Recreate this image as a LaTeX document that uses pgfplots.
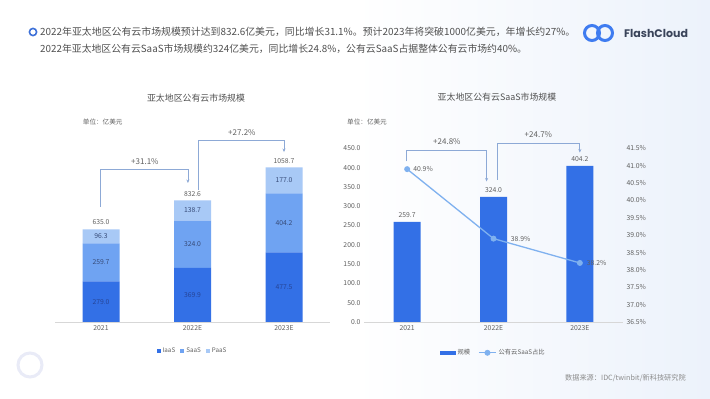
\documentclass[border=0pt]{standalone}
\usepackage{pgfplots}
\pgfplotsset{compat=1.18}
\usepackage{fontspec}
\setmainfont{Noto Sans CJK SC}
\newfontfamily\logofont{Poppins}
\usetikzlibrary{arrows.meta}
\definecolor{barblue}{RGB}{51,112,230}
\definecolor{saasblue}{RGB}{111,163,242}
\definecolor{paasblue}{RGB}{168,201,246}
\definecolor{lineblue}{RGB}{127,177,239}
\definecolor{brk}{RGB}{141,169,214}
\definecolor{txt}{RGB}{80,80,80}
\definecolor{lbl}{RGB}{95,95,95}
\definecolor{iaastxt}{RGB}{38,68,150}
\definecolor{segtxt}{RGB}{55,75,120}
\definecolor{bg}{RGB}{236,242,251}
\newcommand{\fs}[1]{\fontsize{#1}{#1}\selectfont}
\begin{document}
\begin{tikzpicture}[x=1pt,y=1pt]
% background
\shade[left color=white, right color=bg, middle color=white] (0,0) rectangle (710,399);
\draw[color={rgb,255:red,233;green,235;blue,247}, line width=3pt] (30,34) circle (12);
% header
\draw[color={rgb,255:red,59;green,111;blue,216}, line width=1.6pt] (33,367) circle (3.6);
\node[anchor=west, inner sep=0, text=txt] at (40,367) {\fs{9.9}2022年亚太地区公有云市场规模预计达到832.6亿美元，同比增长31.1\%。预计2023年将突破1000亿美元，年增长约27\%。};
\node[anchor=west, inner sep=0, text=txt] at (40,350) {\fs{9.85}2022年亚太地区公有云SaaS市场规模约324亿美元，同比增长24.8\%，公有云SaaS占据整体公有云市场约40\%。};
% logo
\draw[color={rgb,255:red,63;green,124;blue,240}, line width=3pt] (592,366) circle (7.5);
\draw[color={rgb,255:red,63;green,124;blue,240}, line width=3pt] (605,366) circle (7.5);
\node[anchor=west, inner sep=0, text={rgb,255:red,58;green,68;blue,90}] at (624,366) {\logofont\fs{11}\bfseries FlashCloud};
% titles
\node[text=txt] at (196,301) {\fs{8.9}亚太地区公有云市场规模};
\node[anchor=west, inner sep=0, text=lbl] at (82.7,277) {\fs{6.6}单位：亿美元};
\node[text=txt] at (497,302.3) {\fs{8.9}亚太地区公有云SaaS市场规模};
\node[anchor=west, inner sep=0, text=lbl] at (347,277) {\fs{6.6}单位：亿美元};
\node[anchor=east, inner sep=0, text={rgb,255:red,140;green,140;blue,140}] at (686,21) {\fs{7.2}数据来源：IDC/twinbit/新科技研究院};

% ---------- left chart ----------
\begin{axis}[
  at={(55.25pt,77pt)}, anchor=south west,
  scale only axis, width=274.5pt, height=175.2pt,
  xmin=-0.5, xmax=2.5, ymin=0, ymax=1200,
  ybar stacked, bar width=37pt,
  clip=false,
  axis y line=none,
  axis x line*=bottom,
  x axis line style={draw={rgb,255:red,215;green,215;blue,215}, -},
  xtick={0,1,2}, xticklabels={2021,2022E,2023E},
  major tick length=0pt,
  xticklabel style={font=\fs{6.8}, text=lbl},
  legend style={at={(0.5,-0.135)}, anchor=north, draw=none, fill=none,
    legend columns=3, font=\fs{6.3}, text=lbl,
    /tikz/every even column/.append style={column sep=3pt},
    inner sep=0pt},
  legend image code/.code={\fill[#1, draw=none] (0pt,-2pt) rectangle (4pt,2pt);},
]
\addplot[fill=barblue, draw=none] coordinates {(0,279.0) (1,369.9) (2,477.5)};
\addplot[fill=saasblue, draw=none] coordinates {(0,259.7) (1,324.0) (2,404.2)};
\addplot[fill=paasblue, draw=none] coordinates {(0,96.3) (1,138.7) (2,177.0)};
\legend{IaaS,SaaS,PaaS}
\end{axis}
\begin{axis}[
  at={(55.25pt,77pt)}, anchor=south west,
  scale only axis, width=274.5pt, height=175.2pt,
  xmin=-0.5, xmax=2.5, ymin=0, ymax=1200,
  clip=false, hide axis,
]
% segment labels
\node[text=iaastxt, font=\fs{6.8}] at (axis cs:0,139.5) {279.0};
\node[text=iaastxt, font=\fs{6.8}] at (axis cs:1,184.95) {369.9};
\node[text=iaastxt, font=\fs{6.8}] at (axis cs:2,238.75) {477.5};
\node[text=segtxt, font=\fs{6.8}] at (axis cs:0,408.85) {259.7};
\node[text=segtxt, font=\fs{6.8}] at (axis cs:1,531.9) {324.0};
\node[text=segtxt, font=\fs{6.8}] at (axis cs:2,679.6) {404.2};
\node[text=segtxt, font=\fs{6.8}] at (axis cs:0,586.85) {96.3};
\node[text=segtxt, font=\fs{6.8}] at (axis cs:1,763.25) {138.7};
\node[text=segtxt, font=\fs{6.8}] at (axis cs:2,970.2) {177.0};
% totals
\node[text=lbl, font=\fs{6.8}, anchor=south] at (axis cs:0,640) {635.0};
\node[text=lbl, font=\fs{6.8}, anchor=south] at (axis cs:1,837) {832.6};
\node[text=lbl, font=\fs{6.8}, anchor=south] at (axis cs:2,1063) {1058.7};
% brackets
\draw[brk, line width=0.7pt, -{Stealth[length=3.5pt,width=3pt]}] (axis cs:-0.01,788) |- (axis cs:0.95,1048) -- (axis cs:0.95,952);
\node[text=lbl, font=\fs{8}] at (axis cs:0.48,1096) {+31.1\%};
\draw[brk, line width=0.7pt, -{Stealth[length=3.5pt,width=3pt]}] (axis cs:1.06,904) |- (axis cs:2.0,1247) -- (axis cs:2.0,1164);
\node[text=lbl, font=\fs{8}] at (axis cs:1.54,1295) {+27.2\%};
\end{axis}

% ---------- right chart ----------
\begin{axis}[
  at={(364pt,77pt)}, anchor=south west,
  scale only axis, width=259pt, height=173.7pt,
  xmin=-0.5, xmax=2.5, ymin=0, ymax=450,
  ybar, bar width=27pt,
  clip=false,
  axis y line*=left, axis x line*=bottom,
  y axis line style={draw=none},
  x axis line style={draw={rgb,255:red,215;green,215;blue,215}, -},
  xtick={0,1,2}, xticklabels={2021,2022E,2023E},
  ytick={0,50,...,450},
  major tick length=0pt,
  /pgf/number format/assume math mode=true,
  yticklabel={\pgfmathprintnumber[fixed,fixed zerofill,precision=1]{\tick}},
  xticklabel style={font=\fs{6.8}, text=lbl},
  yticklabel style={font=\fs{6.8}, text=lbl},
  nodes near coords={\pgfmathprintnumber[fixed,fixed zerofill,precision=1,assume math mode=true]{\pgfplotspointmeta}},
  nodes near coords style={font=\fs{6.8}, text=lbl, yshift=1pt},
]
\addplot[fill=barblue, draw=none] coordinates {(0,259.7) (1,324.0) (2,404.2)};
\draw[brk, line width=0.7pt, -{Stealth[length=3.5pt,width=3pt]}] (axis cs:-0.005,416) |- (axis cs:0.92,444) -- (axis cs:0.92,364);
\node[text=lbl, font=\fs{8}] at (axis cs:0.46,467.6) {+24.8\%};
\draw[brk, line width=0.7pt, -{Stealth[length=3.5pt,width=3pt]}] (axis cs:1.04,368) |- (axis cs:2.0,463.5) -- (axis cs:2.0,439);
\node[text=lbl, font=\fs{8}] at (axis cs:1.52,485) {+24.7\%};
\end{axis}
\begin{axis}[
  at={(364pt,77pt)}, anchor=south west,
  scale only axis, width=259pt, height=173.7pt,
  xmin=-0.5, xmax=2.5, ymin=36.5, ymax=41.5,
  clip=false,
  axis y line*=right, axis x line=none,
  y axis line style={draw=none},
  ytick={36.5,37,...,41.6},
  major tick length=0pt,
  /pgf/number format/assume math mode=true,
  yticklabel={\pgfmathprintnumber[fixed,fixed zerofill,precision=1]{\tick}\%},
  yticklabel style={font=\fs{6.8}, text=lbl},
  legend style={at={(0.5,-0.145)}, anchor=north, draw=none, fill=none,
    legend columns=2, font=\fs{6.3}, text=lbl,
    /tikz/every even column/.append style={column sep=6pt},
    inner sep=0pt},
]
\addlegendimage{legend image code/.code={\fill[barblue] (0pt,-1.8pt) rectangle (15pt,1.8pt);}}
\addlegendentry{规模}
\addplot[lineblue, line width=1.3pt, mark=*, mark size=2.3pt, mark options={fill=lineblue, draw=lineblue}]
  coordinates {(0,40.9) (1,38.9) (2,38.2)};
\addlegendentry{公有云SaaS占比}
\node[text=lbl, font=\fs{6.8}, anchor=west] at (axis cs:0.03,40.9) {40.9\%};
\node[text=lbl, font=\fs{6.8}, anchor=west] at (axis cs:1.16,38.9) {38.9\%};
\node[text=lbl, font=\fs{6.8}, anchor=west] at (axis cs:2.04,38.2) {38.2\%};
\end{axis}
\end{tikzpicture}
\end{document}
